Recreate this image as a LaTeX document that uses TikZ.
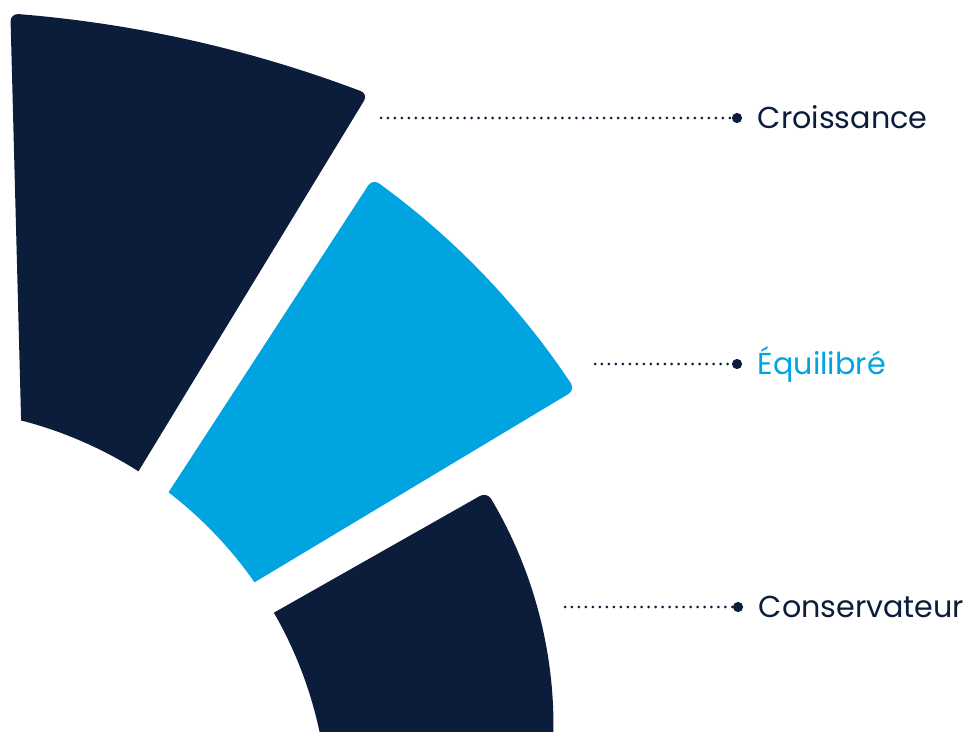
\documentclass[tikz,border=0pt]{standalone}
\usepackage{fontspec}
\setmainfont{Poppins}
\usetikzlibrary{calc,positioning}

\definecolor{navy}{HTML}{0B1D3A}
\definecolor{sky}{HTML}{00A4E0}

\tikzstyle{leader} = [
        draw=navy, line width=1.7pt, line cap=round, dash pattern=on 0pt off 3.97pt
    ]
\tikzstyle{pin} = [circle, fill=navy, inner sep=0pt, minimum size=5.8pt]
\tikzstyle{tag} = [
        inner sep=0pt, text height=11.8pt, text depth=0pt, text=navy,
        font=\fontsize{17.2}{21}\selectfont
    ]

\begin{document}
\begin{tikzpicture}[x=0.02cm, y=-0.02cm]
        \useasboundingbox (0,0) rectangle (969,732);
        \clip (0,0) rectangle (969,732);
        % arc centres
        \coordinate (o)  at (-81,817);
        \coordinate (ot) at (-82,1260);
        \coordinate (ob) at (108.5,726);

        % top sector
        \coordinate (t1)  at ($(o)+(-75.56:409.5)$);
        \coordinate (t2)  at ($(ot)+(-85.76:1250)$);
        \coordinate (t3)  at ($(ot)+(-68.89:1250)$);
        \coordinate (t4)  at ($(o)+(-57.59:409.5)$);
        \coordinate (t2a) at ($(t2)!4.5pt!(t1)$);
        \coordinate (t2b) at ($(ot)+(-85.393:1250)$);
        \coordinate (t3a) at ($(ot)+(-69.257:1250)$);
        \coordinate (t3b) at ($(t3)!4.5pt!(t4)$);
        \fill [navy] (t1) -- (t2a)
            .. controls ($(t2a)!.55!(t2)$) and ($(t2b)!.55!(t2)$) .. (t2b)
            arc [start angle=-85.393, end angle=-69.257, radius=1250]
            .. controls ($(t3a)!.55!(t3)$) and ($(t3b)!.55!(t3)$) .. (t3b)
            -- (t4) arc [start angle=-57.59, end angle=-75.56, radius=409.5]
            -- cycle;

        % middle sector
        \coordinate (b1)  at ($(o)+(-52.46:409.5)$);
        \coordinate (b2)  at ($(o)+(-54.6:783)$);
        \coordinate (b3)  at ($(o)+(-33.06:783)$);
        \coordinate (b4)  at ($(o)+(-34.97:409.5)$);
        \coordinate (b2a) at ($(b2)!4.5pt!(b1)$);
        \coordinate (b2b) at ($(o)+(-54.015:783)$);
        \coordinate (b3a) at ($(o)+(-33.645:783)$);
        \coordinate (b3b) at ($(b3)!4.5pt!(b4)$);
        \fill [sky] (b1) -- (b2a)
            .. controls ($(b2a)!.55!(b2)$) and ($(b2b)!.55!(b2)$) .. (b2b)
            arc [start angle=-54.015, end angle=-33.645, radius=783]
            .. controls ($(b3a)!.55!(b3)$) and ($(b3b)!.55!(b3)$) .. (b3b)
            -- (b4) arc [start angle=-34.97, end angle=-52.46, radius=409.5]
            -- cycle;

        % bottom sector
        \coordinate (c1)  at ($(o)+(-29.93:409.5)$);
        \coordinate (c2)  at ($(ob)+(-31.73:445)$);
        \coordinate (c2a) at ($(c2)!4.5pt!(c1)$);
        \coordinate (c2b) at ($(ob)+(-30.70:445)$);
        \coordinate (c3)  at ($(o)+(0:409.5)$);
        \fill [navy] (c1) -- (c2a)
            .. controls ($(c2a)!.55!(c2)$) and ($(c2b)!.55!(c2)$) .. (c2b)
            arc [start angle=-30.70, end angle=15, radius=445]
            -- (c3) arc [start angle=0, end angle=-29.93, radius=409.5]
            -- cycle;

        % labels
        \node [pin] (croisspin) at (737,118) {};
        \node [tag, right=8.5pt of croisspin] (croiss) {Croissance};
        \coordinate (croisstail) at (381,118);
        \draw [leader] (croisstail) -- (croisspin);

        \node [pin] (equipin) at (737,364) {};
        \node [tag, text=sky, right=8.5pt of equipin] (equi) {Équilibré};
        \coordinate (equitail) at (595,364);
        \draw [leader] (equitail) -- (equipin);

        \node [pin] (conspin) at (738,607) {};
        \node [tag, right=8.5pt of conspin] (cons) {Conservateur};
        \coordinate (constail) at (565,607);
        \draw [leader] (constail) -- (conspin);
    \end{tikzpicture}
\end{document}
